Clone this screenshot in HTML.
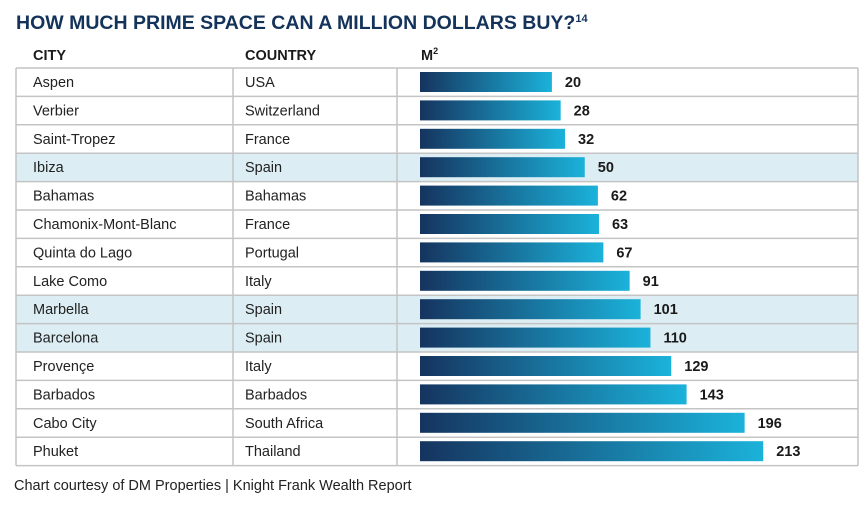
<!DOCTYPE html>
<html><head><meta charset="utf-8"><style>
body{margin:0;background:#fff;width:868px;height:508px;overflow:hidden;font-family:"Liberation Sans",sans-serif}
svg{display:block}
</style></head><body>
<svg id="c" width="868" height="508">
<defs><linearGradient id="g" x1="0" x2="1" y1="0" y2="0"><stop offset="0" stop-color="#15345f"/><stop offset="1" stop-color="#1bb2da"/></linearGradient></defs>
<text x="16" y="29" font-size="19.5" font-weight="bold" fill="#13335a">HOW MUCH PRIME SPACE CAN A MILLION DOLLARS BUY?<tspan font-size="11" dy="-7">14</tspan></text>
<text x="33" y="60" font-size="14.5" font-weight="bold" fill="#1a1a1a">CITY</text>
<text x="245" y="60" font-size="14.5" font-weight="bold" fill="#1a1a1a">COUNTRY</text>
<text x="421" y="60" font-size="14.5" font-weight="bold" fill="#1a1a1a">M<tspan font-size="9" dy="-6">2</tspan></text>
<g id="rows"></g>
<text x="14" y="490" font-size="14.5" fill="#222">Chart courtesy of DM Properties  |  Knight Frank Wealth Report</text>
</svg>
<script>
const cities=["Aspen","Verbier","Saint-Tropez","Ibiza","Bahamas","Chamonix-Mont-Blanc","Quinta do Lago","Lake Como","Marbella","Barcelona","Provençe","Barbados","Cabo City","Phuket"];
const countries=["USA","Switzerland","France","Spain","Bahamas","France","Portugal","Italy","Spain","Spain","Italy","Barbados","South Africa","Thailand"];
const values=[20,28,32,50,62,63,67,91,101,110,129,143,196,213];
const highlighted=[3,8,9];
const NS="http://www.w3.org/2000/svg";
const g=document.getElementById('rows');
const top0=68,rh=28.4,x0=420;
function xw(v){return 110+1.095*v;}
function mk(t,a){const e=document.createElementNS(NS,t);for(const k in a)e.setAttribute(k,a[k]);g.appendChild(e);return e;}
cities.forEach((c,i)=>{
 const y=top0+i*rh;
 if(highlighted.includes(i)){const r=mk('rect',{x:16,y:y,width:842,height:rh,fill:'#dcedf3'});
 
 }
 const t1=mk('text',{x:33,y:y+19,'font-size':14.5,fill:'#222'});t1.textContent=c;
 
 
 const t2=mk('text',{x:245,y:y+19,'font-size':14.5,fill:'#222'});t2.textContent=countries[i];
 
 
 const w=xw(values[i]);
 const b=mk('rect',{x:x0,y:y+4,width:w,height:20,fill:'url(#g)'});
 
 
 const t3=mk('text',{x:x0+w+13,y:y+19,'font-size':14.5,'font-weight':'bold',fill:'#1a1a1a'});t3.textContent=values[i];
 
 
});
for(let i=0;i<=cities.length;i++){const y=top0+i*rh;mk('line',{x1:16,x2:858,y1:y,y2:y,stroke:'#c4c4c4','stroke-width':1.5});}
[16,233,397,858].forEach(x=>mk('line',{x1:x,x2:x,y1:top0,y2:top0+cities.length*rh,stroke:'#c4c4c4','stroke-width':1.5}));
</script>
</body></html>
